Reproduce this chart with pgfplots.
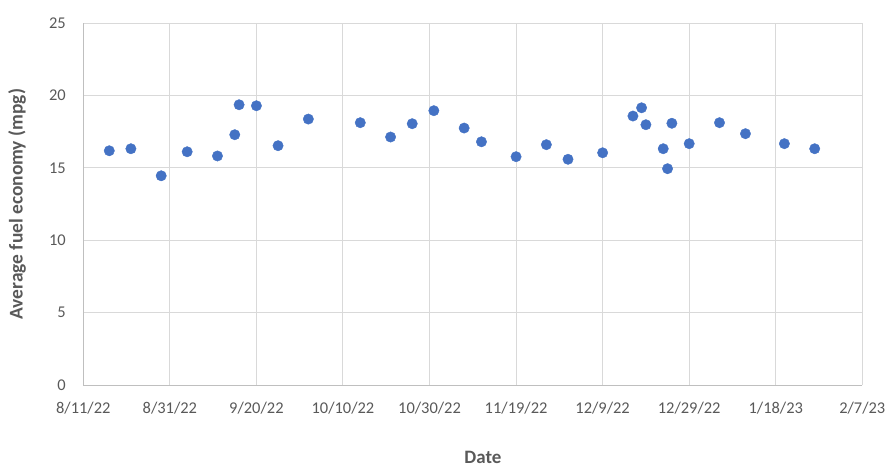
\documentclass[border=0pt]{standalone}
\usepackage{fontspec}
\setmainfont{Carlito}
\usepackage{pgfplots}
\pgfplotsset{compat=1.18}
\definecolor{tickgray}{HTML}{595959}
\definecolor{gridgray}{HTML}{D9D9D9}
\definecolor{axgray}{HTML}{BFBFBF}
\definecolor{mblue}{HTML}{4472C4}
\begin{document}
\begin{tikzpicture}
\begin{axis}[
  scale only axis, width=779bp, height=361.7bp,
  xmin=0, xmax=180, ymin=0, ymax=25,
  xtick={0,20,...,180},
  xticklabels={8/11/22,8/31/22,9/20/22,10/10/22,10/30/22,11/19/22,12/9/22,12/29/22,1/18/23,2/7/23},
  ytick={0,5,...,25},
  grid=major, major grid style={gridgray, line width=1bp},
  axis x line*=bottom, axis y line*=left,
  axis line style={axgray, line width=1bp, -},
  major tick length=0pt,
  /pgf/number format/assume math mode=true,
  tick label style={font=\fontsize{16.5}{18}\selectfont, text=tickgray},
  yticklabel style={xshift=-14bp},
  xticklabel style={yshift=-14bp},
  xlabel={Date}, ylabel={Average fuel economy (mpg)},
  xlabel style={at={(axis description cs:0.513,-0.199)}, anchor=center, font=\fontsize{19}{21}\selectfont\bfseries, text=tickgray},
  ylabel style={at={(axis description cs:-0.0851,0.5)}, anchor=center, font=\fontsize{19.5}{21}\selectfont\bfseries, text=tickgray},
]
\addplot[only marks, mark=*, mark size=5.2bp, mark options={fill=mblue, draw=mblue}] coordinates {
(6,16.19) (11,16.33) (18,14.46) (24,16.12) (31,15.83) (35,17.30) (36,19.37) (40,19.30) (45,16.54) (52,18.38)
(64,18.13) (71,17.14) (76,18.06) (81,18.96) (88,17.76) (92,16.81) (100,15.78) (107,16.61) (112,15.60)
(120,16.05) (127,18.59) (129,19.16) (130,17.99) (134,16.33) (135,14.95) (136,18.09) (140,16.68) (147,18.13) (153,17.37) (162,16.68) (169,16.33)
};
\end{axis}
\pgfresetboundingbox
\path[use as bounding box] ([shift={(-83.3bp,-91bp)}]current axis.south west) rectangle ([shift={(30.7bp,23.3bp)}]current axis.north east);
\end{tikzpicture}
\end{document}
